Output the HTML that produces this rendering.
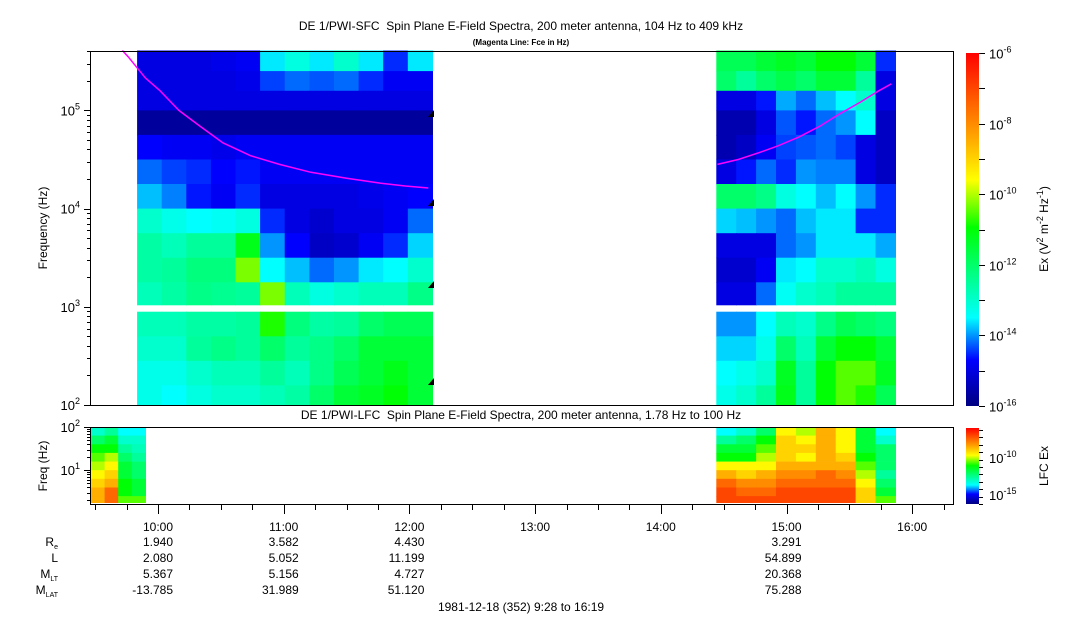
<!DOCTYPE html>
<html><head><meta charset="utf-8"><style>
html,body{margin:0;padding:0;background:#fff}
svg{display:block;font-family:"Liberation Sans",sans-serif}
</style></head><body>
<svg id="c" width="1083" height="620" viewBox="0 0 1083 620" xmlns="http://www.w3.org/2000/svg">
<defs>
<linearGradient id="cmap" x1="0" y1="1" x2="0" y2="0">
<stop offset="0" stop-color="#000080"/><stop offset="0.13" stop-color="#0000ff"/><stop offset="0.25" stop-color="#00ffff"/><stop offset="0.505" stop-color="#00ff00"/><stop offset="0.64" stop-color="#ffff00"/><stop offset="0.77" stop-color="#ffa000"/><stop offset="1" stop-color="#ff0000"/>
</linearGradient>
</defs>
<text x="521" y="30" font-size="12" text-anchor="middle" style="white-space:pre">DE 1/PWI-SFC&#160; Spin Plane E-Field Spectra, 200 meter antenna, 104 Hz to 409 kHz</text>
<text x="521" y="45" font-size="8" font-weight="bold" text-anchor="middle">(Magenta Line: Fce in Hz)</text>
<text x="521" y="419" font-size="12" text-anchor="middle">DE 1/PWI-LFC&#160; Spin Plane E-Field Spectra, 200 meter antenna, 1.78 Hz to 100 Hz</text>
<g id="sfc"></g>
<g id="lfc"></g>
<g id="axes"></g>
<text transform="translate(47,228) rotate(-90)" font-size="12" text-anchor="middle">Frequency (Hz)</text>
<text transform="translate(47,466) rotate(-90)" font-size="12" text-anchor="middle">Freq (Hz)</text>
<rect x="966" y="53" width="13" height="353" fill="url(#cmap)"/>
<rect x="966" y="428" width="13" height="76" fill="url(#cmap)"/>
<text transform="translate(1048,229) rotate(-90)" font-size="12" text-anchor="middle">Ex (V<tspan dy="-5" font-size="9">2</tspan><tspan dy="5"> m</tspan><tspan dy="-5" font-size="9">-2</tspan><tspan dy="5"> Hz</tspan><tspan dy="-5" font-size="9">-1</tspan><tspan dy="5">)</tspan></text>
<text transform="translate(1048,466) rotate(-90)" font-size="12" text-anchor="middle">LFC Ex</text>
<g font-size="12" text-anchor="end">
<text x="58" y="546">R<tspan font-size="7" dy="3">e</tspan></text>
<text x="58" y="562">L</text>
<text x="58" y="578">M<tspan font-size="7" dy="3">LT</tspan></text>
<text x="58" y="594">M<tspan font-size="7" dy="3">LAT</tspan></text>
</g>
<text x="521" y="611" font-size="12" text-anchor="middle">1981-12-18 (352) 9:28 to 16:19</text>
</svg>
<script>
// ---- data ----
const sfcFreqHi = [5.61,5.4,5.2,5.0,4.75,4.5,4.25,4.0,3.75,3.5,3.25,2.95,2.7,2.45,2.2];
const sfcFreqLo = [5.4,5.2,5.0,4.75,4.5,4.25,4.0,3.75,3.5,3.25,3.02,2.7,2.45,2.2,2.0];
const seg1Start = -10, seg1Step = 11.75; // minutes after 10:00
const seg1Vals = [
[-15,-15,-15,-14.9,-14.8,-13.6,-13.2,-13.6,-13,-13.6,-14.5,-13.6],
[-15,-15,-15,-15,-14.9,-14.4,-14.2,-14.3,-14.2,-14.5,-14.8,-14.8],
[-15,-15,-15,-15,-15,-15,-15,-15,-15,-15,-15,-15],
[-15.7,-15.7,-15.7,-15.7,-15.7,-15.7,-15.7,-15.7,-15.7,-15.7,-15.7,-15.7],
[-14.7,-14.8,-14.8,-14.9,-14.8,-14.8,-14.8,-14.8,-14.8,-14.8,-14.8,-14.8],
[-14.2,-14.4,-14.5,-14.7,-14.6,-14.8,-14.8,-14.8,-14.8,-14.8,-14.8,-14.8],
[-13.8,-14.1,-14.6,-14.8,-14.5,-15,-15,-15,-15,-14.9,-14.8,-14.7],
[-13,-13.3,-13.5,-13.4,-13.2,-14.5,-15,-15.2,-15,-15,-14.8,-14.2],
[-12.6,-12.8,-12.5,-12.5,-11.2,-14,-14.7,-15.3,-15.2,-14.8,-14.5,-13.7],
[-12.6,-12.5,-12.2,-12.2,-10.3,-13.5,-13.8,-14.2,-14,-13.6,-13.5,-13],
[-12.8,-12.6,-12.3,-12.4,-12.5,-10.3,-12.8,-13.2,-13,-12.8,-12.8,-12.3],
[-12.8,-12.8,-12.6,-12.6,-12.5,-10.8,-12.2,-12.6,-12.5,-12,-11.8,-11.8],
[-13,-13,-12.5,-12.3,-12.5,-12,-12.5,-12.3,-12,-11.5,-11.5,-11.5],
[-13.3,-13.3,-13,-12.8,-12.8,-12.5,-12.8,-12.3,-11.8,-11.5,-11.2,-11.5],
[-13.3,-13.5,-13.2,-13,-13,-12.8,-12.6,-12,-11.5,-11.3,-11,-11.5]];
const seg2Start = 266.5, seg2Step = 9.5;
const seg2Vals = [
[-11.8,-11.8,-11.5,-11.3,-11.5,-11,-11,-11.5,-14.5],
[-12,-12.5,-12,-11.7,-12,-11.5,-11.5,-12.5,-15],
[-15,-15,-14.6,-13.9,-14.2,-13.8,-13.5,-13,-15],
[-15.5,-15.5,-15,-14.3,-14.6,-14.2,-14,-13.5,-15.3],
[-15.5,-15.3,-14.8,-14.4,-14.3,-14.2,-14.4,-15,-15.3],
[-15,-14.6,-14.2,-14.5,-14,-14.1,-14.1,-15,-15.3],
[-12,-12,-12.3,-13.2,-13.5,-13.8,-13.5,-14,-14.5],
[-13.7,-13.8,-14,-14.2,-13.8,-13.6,-13.6,-14.5,-14.5],
[-15,-15,-15,-14.2,-14,-13.6,-13.6,-13.6,-13.9],
[-15.2,-15.2,-14.8,-13.6,-13.5,-13,-13,-12.8,-13.2],
[-15,-15,-14.2,-13.4,-13,-12.8,-12.5,-12.5,-12.5],
[-14,-14,-13.5,-12.8,-13,-12.3,-11.8,-12,-12.2],
[-13.7,-13.7,-13.3,-12,-12.8,-11.5,-11,-11,-11.5],
[-13.5,-13.3,-13,-11.3,-12.5,-11,-10.5,-10.5,-11.3],
[-13.3,-13,-12.5,-11.2,-12.5,-11,-10.5,-10.8,-11.8]];
const lfcFreqEdges = [2.0,1.8,1.6,1.4,1.2,1.0,0.8,0.6,0.4,0.25];
const lfc1Start = -32, lfc1Step = 6.5;
const lfc1Vals = [
[-13,-12.5,-13.5,-13.5],[-12,-11.5,-13,-13],[-11,-11,-12.5,-12.8],[-10.5,-10,-12,-12.5],
[-10,-9.5,-11.5,-12],[-9.5,-9,-11.5,-12],[-9,-8.5,-11,-11.5],[-8.5,-7.5,-11,-11.5],[-8.5,-7.5,-10.5,-10.5]];
const lfc2Vals = [
[-13.5,-13,-12,-9.5,-10,-8.5,-9.5,-11.5,-13.5],
[-12.5,-12,-11,-9,-9.5,-8.5,-9.5,-11.5,-13],
[-11.5,-11.5,-10.5,-9,-9,-8.5,-9.5,-11.5,-12],
[-11,-11,-10,-9,-9.5,-8.5,-9,-11,-12],
[-9.5,-9.5,-9.5,-8.5,-8.5,-8.5,-8.5,-10.5,-12],
[-8.5,-9,-8.5,-8,-8,-7.5,-8,-10,-12.5],
[-7.5,-8,-8,-7.5,-7.5,-7.5,-7.5,-9.5,-12],
[-7,-7.5,-7.5,-7,-7,-7,-7,-9,-11.5],
[-7,-7,-7,-7,-7,-7,-7,-9,-10.5]];
const fce1Times = [-17,-14,-11,-6,1,10,20,31,44,58,73,90,106,118,129];
const fce1Log = [5.61,5.54,5.46,5.33,5.2,5.0,4.84,4.67,4.54,4.45,4.37,4.31,4.26,4.23,4.21];
const fce2Times = [267,277,287,296,306,316,325,335,344,350];
const fce2Log = [4.45,4.5,4.57,4.64,4.73,4.84,4.96,5.08,5.2,5.27];
const hourLabels = ["10:00","11:00","12:00","13:00","14:00","15:00","16:00"];
const ephemHours = [0,1,2,5];
const ephRe = ["1.940","3.582","4.430","3.291"];
const ephL = ["2.080","5.052","11.199","54.899"];
const ephMLT = ["5.367","5.156","4.727","20.368"];
const ephMLAT = ["-13.785","31.989","51.120","75.288"];
// ---- scales ----
const NS="http://www.w3.org/2000/svg";
const X0=158, PXH=125.7;
const xT = m => X0 + m/60*PXH;
const yS = lf => 405 - (lf-2)*98.2;
const yL = lf => 427 + (2-lf)*43.2;
const stops=[[-16,[0,0,128]],[-14.7,[0,0,255]],[-13.5,[0,255,255]],[-10.95,[0,255,0]],[-9.6,[255,255,0]],[-8.3,[255,160,0]],[-6,[255,0,0]]];
function col(v){
  if(v<=stops[0][0]) return "rgb(0,0,128)";
  for(let i=1;i<stops.length;i++){ if(v<=stops[i][0]){const a=stops[i-1],b=stops[i],t=(v-a[0])/(b[0]-a[0]);
    return "rgb("+a[1].map((c,k)=>Math.round(c+(b[1][k]-c)*t)).join(",")+")";}}
  return "rgb(255,0,0)";
}
function mk(tag,attrs,parent){const e=document.createElementNS(NS,tag);for(const k in attrs)e.setAttribute(k,attrs[k]);parent.appendChild(e);return e;}
const sfc=document.getElementById("sfc"), lfc=document.getElementById("lfc"), ax=document.getElementById("axes");
function drawGrid(vals,start,step,hi,lo,ys,parent,name){
  vals.forEach((row,r)=>row.forEach((v,c)=>{
    const x1=xT(start+c*step), x2=xT(start+(c+1)*step);
    const y1=ys(hi[r]), y2=ys(lo[r]);
    const e=mk("rect",{x:x1.toFixed(1),y:y1.toFixed(1),width:(x2-x1+0.6).toFixed(1),height:(y2-y1+0.4).toFixed(1),fill:col(v)},parent);
    
    
  }));
}
drawGrid(seg1Vals,seg1Start,seg1Step,sfcFreqHi,sfcFreqLo,yS,sfc,'sfc-cell-seg1');
drawGrid(seg2Vals,seg2Start,seg2Step,sfcFreqHi,sfcFreqLo,yS,sfc,'sfc-cell-seg2');
const lfHi=lfcFreqEdges.slice(0,-1), lfLo=lfcFreqEdges.slice(1);
drawGrid(lfc1Vals,lfc1Start,lfc1Step,lfHi,lfLo,yL,lfc,'lfc-cell-seg1');
drawGrid(lfc2Vals,seg2Start,seg2Step,lfHi,lfLo,yL,lfc,'lfc-cell-seg2');
// fce lines
[[fce1Times,fce1Log],[fce2Times,fce2Log]].forEach((p,i)=>{
  const pts=p[0].map((t,k)=>xT(t).toFixed(1)+","+yS(p[1][k]).toFixed(1)).join(" ");
  const e=mk("polyline",{points:pts,fill:"none",stroke:"#ff00ff","stroke-width":1.5},sfc);
  
  
});
// markers
[113,202,284,381].forEach(y=>{
  const e=mk("polygon",{points:"428,"+(y+4)+" 434,"+(y-3)+" 434,"+(y+4),fill:"#000"},sfc);
  
  
});
// frames
mk("rect",{x:90.5,y:51.5,width:863,height:354,fill:"none",stroke:"#000"},ax);
mk("rect",{x:90.5,y:427.5,width:863,height:77,fill:"none",stroke:"#000"},ax);
// y ticks sfc
for(let d=2;d<=5;d++){
  for(let m=1;m<10;m++){const lf=d+Math.log10(m); if(lf>5.612) break;
    const y=Math.round(yS(lf))+0.5; mk("line",{x1:m==1?84:87,x2:90,y1:y,y2:y,stroke:"#000"},ax);}
  const t=mk("text",{x:80,y:yS(d)+5,"font-size":13,"text-anchor":"end"},ax);
  t.innerHTML='10<tspan dy="-6" font-size="9">'+d+'</tspan>';
  
  
}
// y ticks lfc
for(let d=0;d<=2;d++){
  for(let m=1;m<10;m++){const lf=d+Math.log10(m); if(lf>2.001) break; if(lf<0.25) continue;
    const y=Math.round(yL(lf))+0.5; mk("line",{x1:m==1?84:87,x2:90,y1:y,y2:y,stroke:"#000"},ax);}
  if(d>=1){const t=mk("text",{x:80,y:yL(d)+5,"font-size":13,"text-anchor":"end"},ax);
  t.innerHTML='10<tspan dy="-6" font-size="9">'+d+'</tspan>';
  
  }
}
// x ticks
for(let m=-30;m<=390;m+=15){const x=Math.round(xT(m))+0.5; if(x<91||x>953) continue;
  mk("line",{x1:x,x2:x,y1:505,y2:m%60==0?514:510,stroke:"#000"},ax);}
hourLabels.forEach((h,i)=>{const t=mk("text",{x:xT(i*60),y:531,"font-size":12,"text-anchor":"middle"},ax);
  t.textContent=h;
  
  });
[ephRe,ephL,ephMLT,ephMLAT].forEach((arr,r)=>arr.forEach((v,i)=>{
  const t=mk("text",{x:xT(ephemHours[i]*60)+15,y:546+r*16,"font-size":12,"text-anchor":"end"},ax);
  t.textContent=v;
  
  }));
// colorbar ticks
for(let i=0;i<=10;i++){const y=Math.round(53+i*35.3)+0.5; mk("line",{x1:979,x2:985,y1:y,y2:y,stroke:"#000"},ax);
  if(i%2==0){const t=mk("text",{x:989,y:y+5,"font-size":13},ax);
    t.innerHTML='10<tspan dy="-6" font-size="9">'+(-6-i)+'</tspan>';
    
    }}
for(let i=0;i<=10;i++){const y=Math.round(430+i*7.4)+0.5; mk("line",{x1:979,x2:983,y1:y,y2:y,stroke:"#000"},ax);}
[[-10,458],[-15,495]].forEach(p=>{const t=mk("text",{x:989,y:p[1]+5,"font-size":13},ax);
  t.innerHTML='10<tspan dy="-6" font-size="9">'+p[0]+'</tspan>';
  
  });
</script>
</body></html>
